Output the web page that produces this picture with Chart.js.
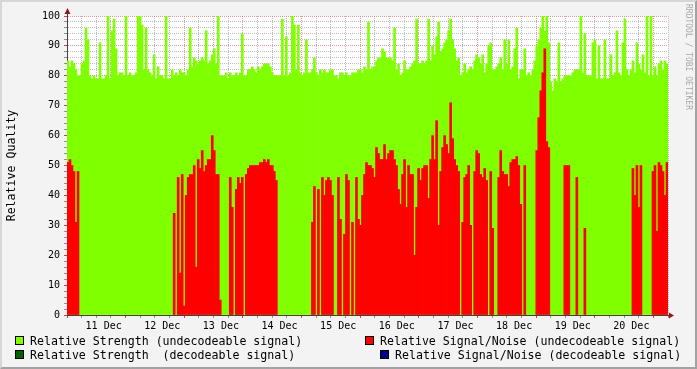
<!DOCTYPE html>
<html>
<head>
<meta charset="utf-8">
<script src="https://cdn.jsdelivr.net/npm/chart.js@4"></script>
<style>
  body { margin: 0; background: #f3f3f3; }
  #wrap { position: relative; width: 697px; height: 369px; background: #f3f3f3; overflow: hidden; }
  #frame { position: absolute; left: 0; top: 0; width: 697px; height: 369px; box-sizing: border-box;
           border: 2px solid; border-color: #d6d6d6 #a2a2a2 #a2a2a2 #d6d6d6; pointer-events: none; }
  canvas { position: absolute; left: 0; top: 0; }
  .lg { position: absolute; font-family: "DejaVu Sans Mono", monospace; font-size: 11.6px; line-height: 14px;
        white-space: pre; color: #000; }
  .bx { position: absolute; width: 7px; height: 7px; border: 1px solid #000; }
  #credit { position: absolute; left: 684px; top: 4px; writing-mode: vertical-rl;
            font-family: "DejaVu Sans Mono", monospace; font-size: 8px; color: #a8a8a8; }
</style>
</head>
<body>
<div id="wrap">
  <canvas id="rrd" width="697" height="369"></canvas>
  <div id="credit">RRDTOOL / TOBI OETIKER</div>
  <div class="bx" style="left:15px;top:336px;background:#80ff00"></div>
  <div class="lg" style="left:30px;top:334px">Relative Strength (undecodeable signal)</div>
  <div class="bx" style="left:15px;top:350px;background:#006400"></div>
  <div class="lg" style="left:30px;top:348px">Relative Strength  (decodeable signal)</div>
  <div class="bx" style="left:365px;top:336px;background:#ff0000"></div>
  <div class="lg" style="left:380px;top:334px">Relative Signal/Noise (undecodeable signal)</div>
  <div class="bx" style="left:380px;top:350px;background:#00008b"></div>
  <div class="lg" style="left:395px;top:348px">Relative Signal/Noise (decodeable signal)</div>
  <div id="frame"></div>
</div>
<script>
// one bin = 48 minutes, 30 bins per day, 11 Dec 00:00 .. 21 Dec 00:00
var dayLabels = ['11 Dec', '12 Dec', '13 Dec', '14 Dec', '15 Dec', '16 Dec', '17 Dec', '18 Dec', '19 Dec', '20 Dec'];
var binsPerDay = 30;

var strengthUndecodeable = [
  85,83,85,84,82,80,80,84,85,96, 92,80,79,80,79,79,91,79,79,80,
  100,79,95,99,89,80,81,81,80,100, 80,81,80,80,81,100,100,97,82,96,
  82,81,80,87,79,83,80,80,79,100, 79,79,82,80,81,80,82,81,81,80,
  82,96,83,86,85,84,85,86,85,95, 84,85,87,89,84,100,80,80,80,81,
  79,81,80,80,81,80,81,94,80,80, 82,82,83,82,81,83,82,83,84,84,
  84,83,81,80,80,80,80,99,80,93, 80,81,100,97,82,97,81,80,81,92,
  81,81,82,86,81,80,82,81,82,81, 81,82,82,80,80,79,81,81,80,81,
  80,80,81,81,81,82,82,81,83,82, 98,82,83,83,85,86,86,89,88,86,
  86,86,85,96,82,84,80,81,85,82, 82,83,84,85,99,84,84,85,84,85,
  99,85,90,87,93,98,88,89,91,92, 95,99,92,89,85,86,80,81,84,81,
  82,83,82,85,87,86,84,87,81,84, 90,91,82,82,83,84,86,82,92,84,
  92,82,83,89,96,79,82,82,89,80, 81,80,82,85,90,92,96,100,95,100,
  91,78,75,79,78,91,78,79,80,80, 80,80,81,82,82,82,100,81,94,80,
  80,80,91,92,79,90,79,79,92,79, 79,87,80,81,95,81,80,91,99,82,
  80,82,85,81,91,84,82,87,81,100, 80,100,80,83,80,84,85,82,85,84
];

// 0 = no value in that bin
var snrUndecodeable = [
  51,52,50,48,31,48,0,0,0,0, 0,0,0,0,0,0,0,0,0,0,
  0,0,0,0,0,0,0,0,0,0, 0,0,0,0,0,0,0,0,0,0,
  0,0,0,0,0,0,0,0,0,0, 0,0,0,34,0,46,14,47,3,40,
  46,47,47,50,16,52,49,55,48,50, 52,52,60,55,47,47,5,0,0,0,
  0,46,36,0,42,46,44,46,0,47, 49,50,50,50,50,50,51,51,52,51,
  52,50,50,48,45,0,0,0,0,0, 0,0,0,0,0,0,0,0,0,0,
  0,0,31,43,0,42,0,46,40,45, 46,45,40,0,0,46,32,0,27,47,
  45,0,31,0,46,32,30,40,47,51, 50,50,49,46,56,54,52,52,57,52,
  54,55,55,52,50,42,37,47,52,36, 50,47,47,20,36,49,45,49,50,50,
  39,52,60,52,65,30,48,56,60,57, 54,71,59,52,50,48,0,31,46,47,
  50,30,0,48,55,54,47,46,49,45, 0,48,29,0,0,46,55,48,47,47,
  43,51,52,52,53,50,37,0,50,0, 0,0,0,0,55,66,75,81,89,58,
  56,0,0,0,0,0,0,0,50,50, 50,0,0,0,46,0,0,0,29,0,
  0,0,0,0,0,0,0,0,0,0, 0,0,0,0,0,0,0,0,0,0,
  0,0,49,40,50,36,50,0,0,0, 0,0,48,50,28,51,50,48,40,51
];

// decodeable series carry no samples in this window
var strengthDecodeable = [];
var snrDecodeable = [];

var majorGrid = 'rgba(220,120,120,0.75)';
var minorGrid = 'rgba(170,170,170,0.75)';
var monoFont = { family: 'DejaVu Sans Mono', size: 10 };

var plotBackground = {
  id: 'plotBackground',
  beforeDraw: function (chart) {
    var a = chart.chartArea, ctx = chart.ctx;
    ctx.save();
    ctx.fillStyle = '#ffffff';
    ctx.fillRect(a.left, a.top, a.right - a.left, a.bottom - a.top);
    ctx.restore();
  }
};

var axisArrows = {
  id: 'axisArrows',
  afterDraw: function (chart) {
    var a = chart.chartArea, ctx = chart.ctx;
    var x0 = Math.round(a.left) + 0.5, y0 = Math.round(a.bottom) + 0.5;
    ctx.save();
    ctx.strokeStyle = '#404040';
    ctx.lineWidth = 1;
    ctx.beginPath();
    ctx.moveTo(x0, a.top); ctx.lineTo(x0, a.top - 3);
    ctx.moveTo(a.right, y0); ctx.lineTo(a.right + 2, y0);
    ctx.stroke();
    ctx.fillStyle = '#8e1c1c';
    ctx.beginPath();
    ctx.moveTo(x0 - 3, a.top - 2); ctx.lineTo(x0 + 3, a.top - 2); ctx.lineTo(x0, a.top - 8);
    ctx.closePath(); ctx.fill();
    ctx.beginPath();
    ctx.moveTo(a.right + 1, y0 - 3); ctx.lineTo(a.right + 1, y0 + 3); ctx.lineTo(a.right + 6, y0);
    ctx.closePath(); ctx.fill();
    ctx.restore();
  }
};

function isMultiple(v, m) {
  var q = v / m;
  return Math.abs(q - Math.round(q)) < 1e-6;
}

function gridColor(step, major, minor) {
  return function (c) {
    return c.tick && isMultiple(c.tick.value, step) ? major : minor;
  };
}

new Chart(document.getElementById('rrd').getContext('2d'), {
  type: 'bar',
  data: {
    labels: strengthUndecodeable.map(function (_, i) { return i; }),
    datasets: [
      { label: 'Relative Signal/Noise (undecodeable signal)', data: snrUndecodeable.map(function (v) { return v || null; }),
        backgroundColor: '#ff0000', order: 1 },
      { label: 'Relative Signal/Noise (decodeable signal)', data: snrDecodeable, backgroundColor: '#00008b', order: 2 },
      { label: 'Relative Strength  (decodeable signal)', data: strengthDecodeable, backgroundColor: '#006400', order: 3 },
      { label: 'Relative Strength (undecodeable signal)', data: strengthUndecodeable, backgroundColor: '#80ff00', order: 4 }
    ]
  },
  options: {
    responsive: false,
    animation: false,
    devicePixelRatio: 1,
    datasets: { bar: { grouped: false, barPercentage: 1, categoryPercentage: 1, borderWidth: 0 } },
    layout: { padding: { left: 0, right: 29, top: 16, bottom: 34 } },
    plugins: { legend: { display: false }, tooltip: { enabled: false } },
    scales: {
      x: { type: 'category', display: false, offset: true },
      xt: {
        type: 'linear', position: 'bottom', min: 0, max: strengthUndecodeable.length, z: 1,
        afterFit: function (s) { s.height = 20; },
        ticks: {
          stepSize: binsPerDay / 4, autoSkip: false, maxRotation: 0, padding: 2, color: '#000', font: monoFont,
          callback: function (v) {
            var d = (v - binsPerDay / 2) / binsPerDay;
            return isMultiple(v - binsPerDay / 2, binsPerDay) ? dayLabels[Math.round(d)] : '';
          }
        },
        grid: {
          tickLength: 3,
          color: gridColor(binsPerDay, majorGrid, minorGrid),
          tickColor: gridColor(binsPerDay, '#d04040', '#909090')
        },
        border: { color: '#404040', dash: [1, 1] }
      },
      y: {
        min: 0, max: 100, z: 1,
        afterFit: function (s) { s.width = 67; },
        title: { display: true, text: 'Relative Quality', color: '#000', padding: { top: 5, bottom: 0 },
                 font: { family: 'DejaVu Sans Mono', size: 11.6 } },
        ticks: {
          stepSize: 2, autoSkip: false, padding: 4, color: '#000', font: monoFont,
          callback: function (v) { return isMultiple(v, 10) ? String(v) : ''; }
        },
        grid: {
          tickLength: 3,
          color: gridColor(10, majorGrid, minorGrid),
          tickColor: gridColor(10, '#d04040', '#909090')
        },
        border: { color: '#404040', dash: [1, 1] }
      }
    }
  },
  plugins: [plotBackground, axisArrows]
});
</script>
</body>
</html>
